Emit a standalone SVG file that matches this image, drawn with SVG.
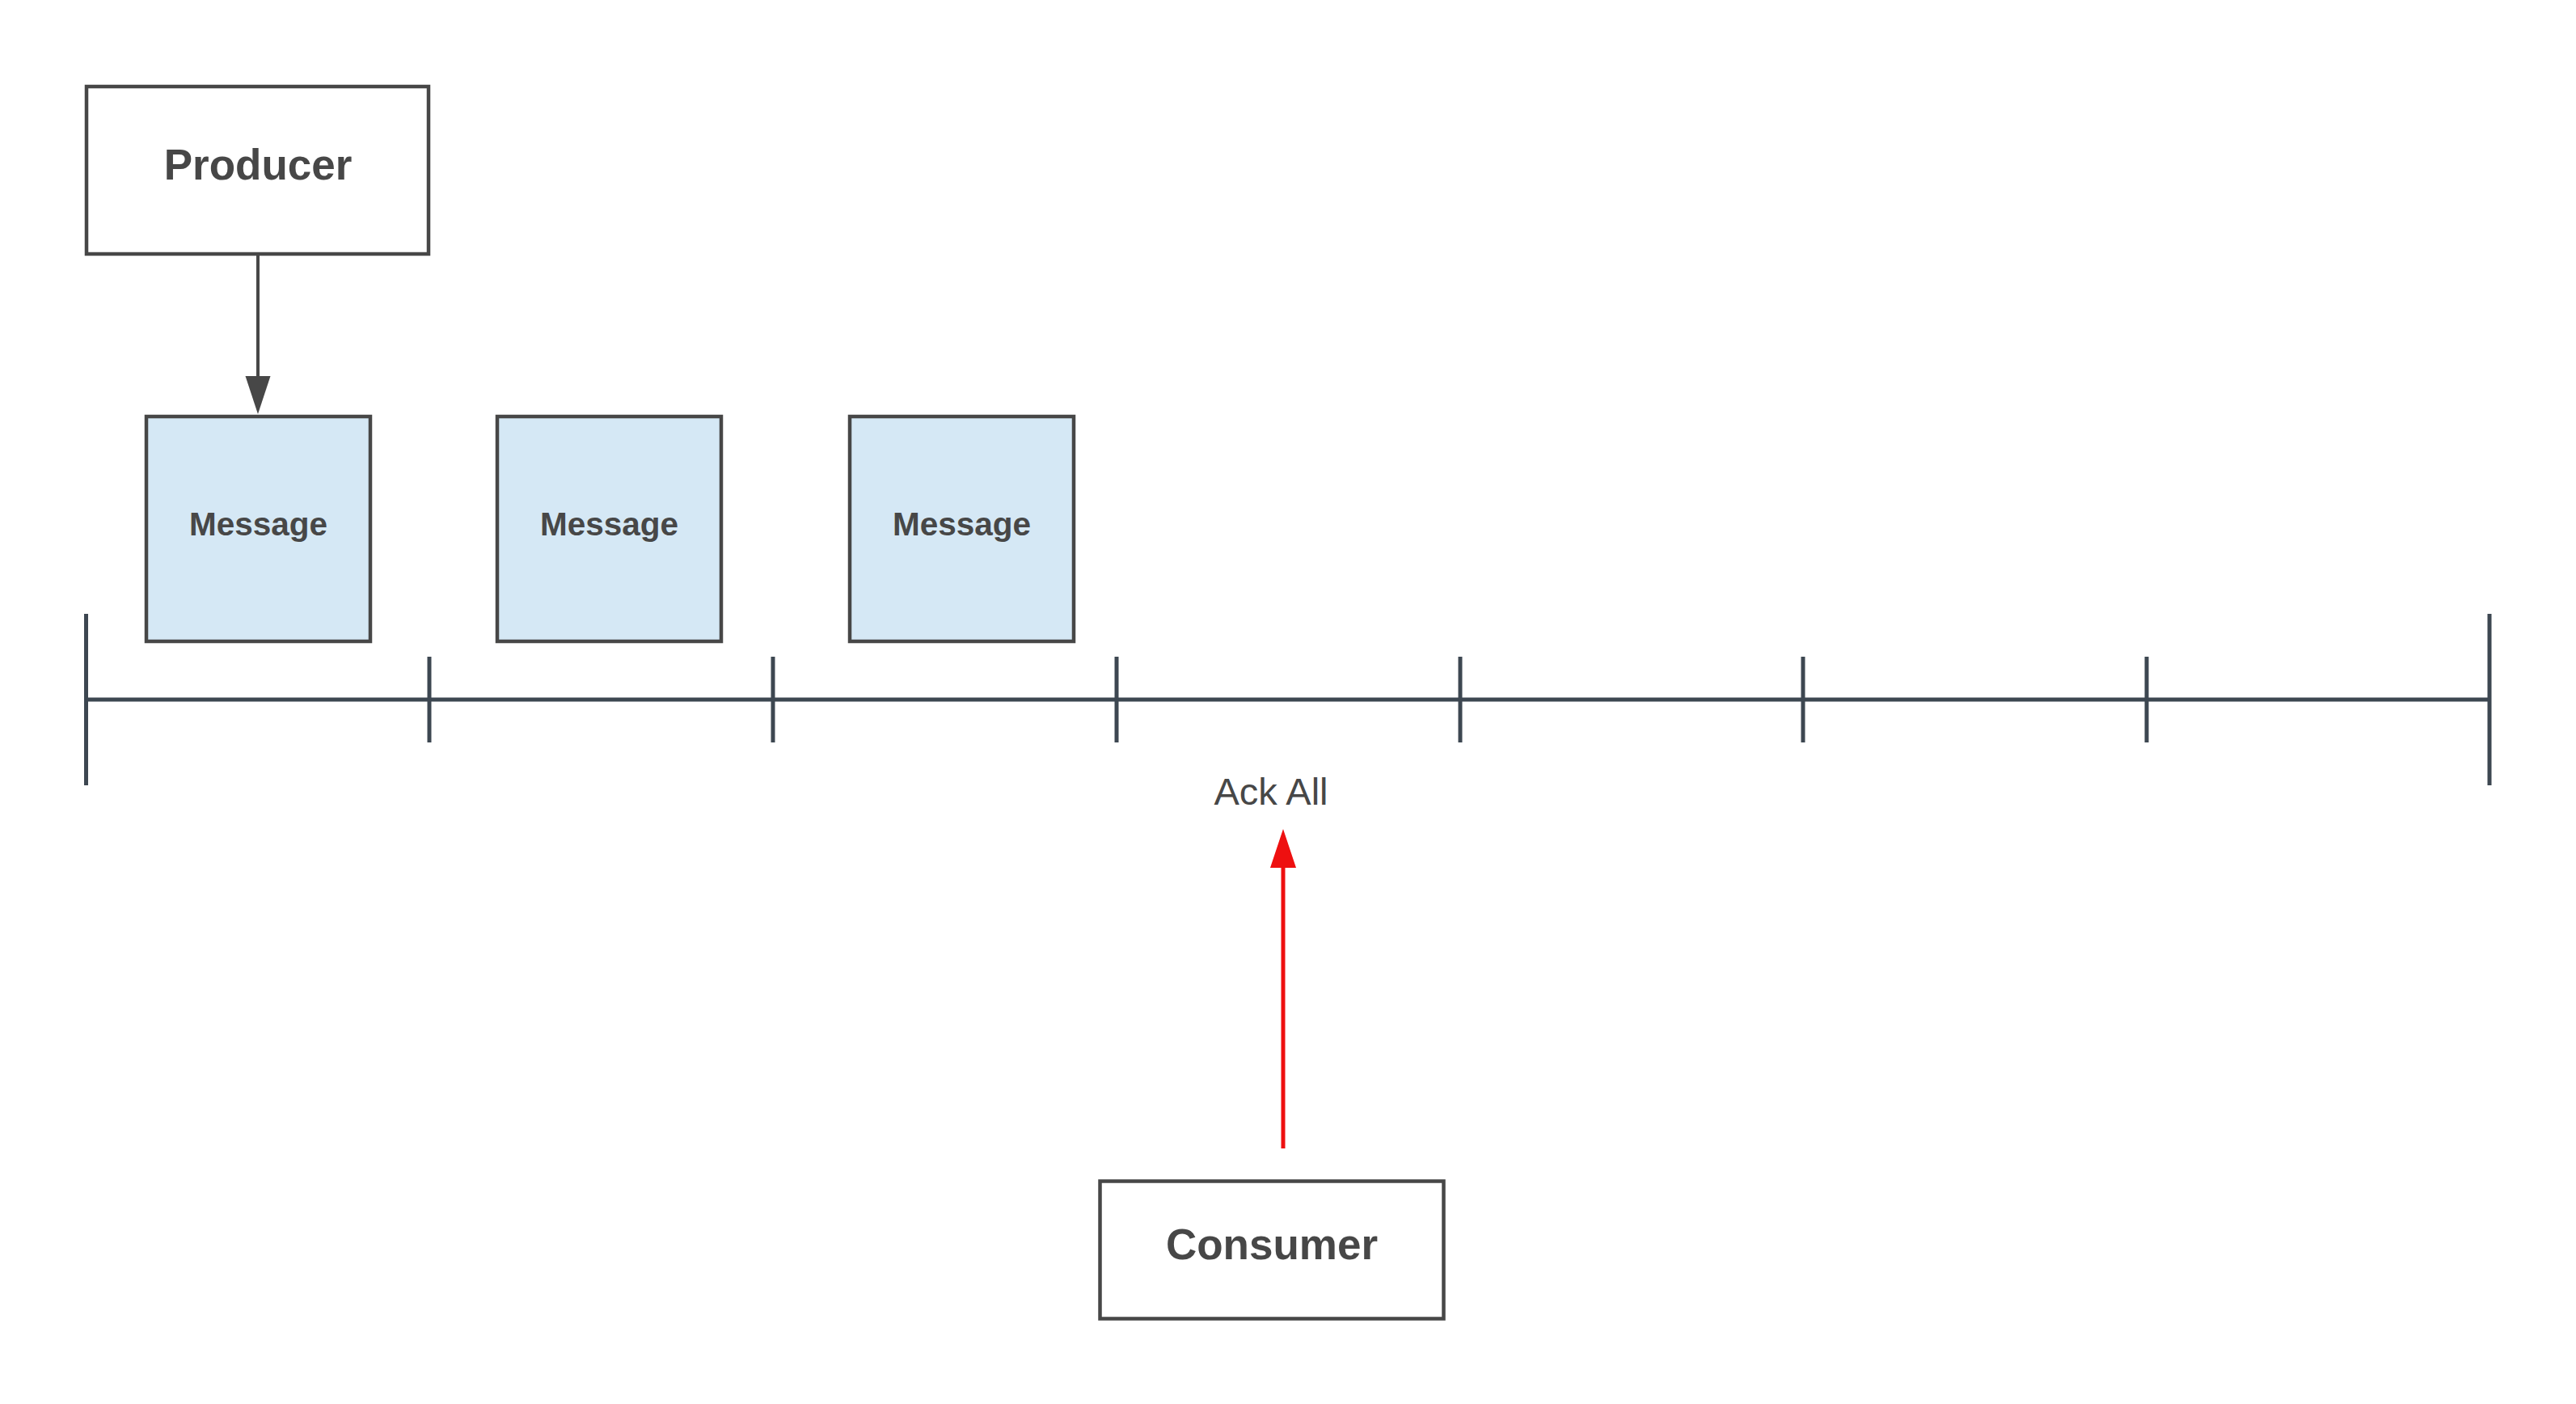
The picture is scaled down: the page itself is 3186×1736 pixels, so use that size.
<svg xmlns="http://www.w3.org/2000/svg" width="3186" height="1736" viewBox="0 0 3186 1736">
  <style>
    .box { fill: #ffffff; stroke: #474747; stroke-width: 4.5; }
    .msg { fill: #d5e8f5; stroke: #474747; stroke-width: 4.5; }
    .lbl { font-family: "Liberation Sans", Arial, sans-serif; font-weight: bold; fill: #474747; text-anchor: middle; }
    .axis { stroke: #3d4751; stroke-width: 5; fill: none; }
  </style>
  <rect width="3186" height="1736" fill="#ffffff"/>
  <g id="timeline">
    <line class="axis" x1="106.5" y1="865" x2="3079" y2="865"/>
    <line class="axis" x1="106.5" y1="759" x2="106.5" y2="971"/>
    <line class="axis" x1="531" y1="812" x2="531" y2="918"/>
    <line class="axis" x1="956" y1="812" x2="956" y2="918"/>
    <line class="axis" x1="1381" y1="812" x2="1381" y2="918"/>
    <line class="axis" x1="1806" y1="812" x2="1806" y2="918"/>
    <line class="axis" x1="2230" y1="812" x2="2230" y2="918"/>
    <line class="axis" x1="2655" y1="812" x2="2655" y2="918"/>
    <line class="axis" x1="3079" y1="759" x2="3079" y2="971"/>
  </g>
  <g id="producer">
    <rect class="box" x="107" y="107" width="423" height="207"/>
    <text class="lbl" x="319" y="222" font-size="53">Producer</text>
  </g>
  <g id="message1">
    <rect class="msg" x="181" y="515" width="277" height="278"/>
    <text class="lbl" x="319.5" y="662" font-size="40.5">Message</text>
  </g>
  <g id="message2">
    <rect class="msg" x="615" y="515" width="277" height="278"/>
    <text class="lbl" x="753.5" y="662" font-size="40.5">Message</text>
  </g>
  <g id="message3">
    <rect class="msg" x="1051" y="515" width="277" height="278"/>
    <text class="lbl" x="1189.5" y="662" font-size="40.5">Message</text>
  </g>
  <g id="consumer">
    <rect class="box" x="1360.5" y="1460.5" width="425" height="170"/>
    <text class="lbl" x="1573" y="1557" font-size="53">Consumer</text>
  </g>
  <g id="ack-label">
    <text x="1572" y="995" font-size="47" font-family="Liberation Sans, Arial, sans-serif" fill="#474747" text-anchor="middle">Ack All</text>
  </g>
  <g id="connectors">
    <line x1="319" y1="316" x2="319" y2="470" stroke="#474747" stroke-width="4"/>
    <polygon points="303.5,465 334.5,465 319,512" fill="#474747"/>
    <line x1="1587" y1="1420" x2="1587" y2="1068" stroke="#ee1010" stroke-width="5"/>
    <polygon points="1571,1073 1603,1073 1587,1025" fill="#ee1010"/>
  </g>
</svg>
